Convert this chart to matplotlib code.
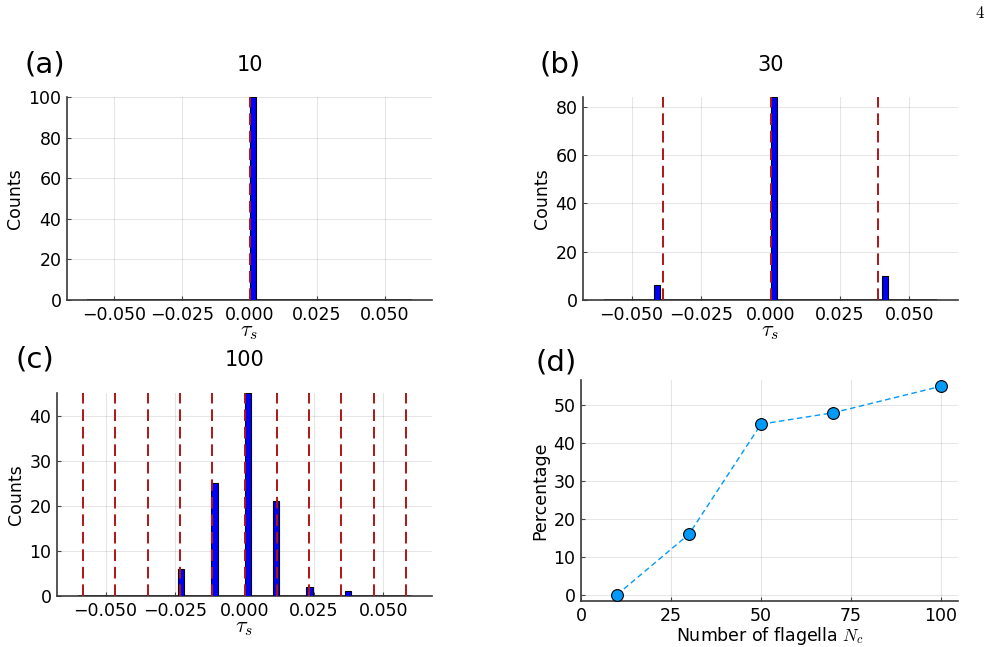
import numpy as np
import matplotlib
matplotlib.use("Agg")
import matplotlib.pyplot as plt
from matplotlib.ticker import FuncFormatter

plt.rcParams['font.family'] = ['DejaVu Sans']
plt.rcParams['mathtext.fontset'] = 'cm'

# histogram data (bar left edge, counts)
bar_width = 0.0023
tau_range = (-0.06, 0.06)

left_a = [0.0]
count_a = [100]
lines_a = [0.0]

left_b = [-0.0421, 0.0, 0.0400]
count_b = [6, 84, 10]
lines_b = [-0.0388, 0.0, 0.0388]

left_c = [-0.0240, -0.0119, 0.0, 0.0101, 0.0223, 0.0360]
count_c = [6, 25, 45, 21, 2, 1]
lines_c = [-0.0582, -0.0466, -0.0349, -0.0233, -0.0116, 0.0,
           0.0116, 0.0233, 0.0349, 0.0466, 0.0582]

# panel (d)
n_flagella = [10, 30, 50, 70, 100]
percentage = [0, 16, 45, 48, 55]

tau_ticks = [-0.05, -0.025, 0.0, 0.025, 0.05]

W, H = 997, 647
fig = plt.figure(figsize=(W / 100, H / 100), dpi=100)


def box(l, r, t, b):
    return [l / W, 1 - b / H, (r - l) / W, (b - t) / H]


def style(ax):
    for s in ['top', 'right']:
        ax.spines[s].set_visible(False)
    for s in ['left', 'bottom']:
        ax.spines[s].set_color('#3a3a3a')
        ax.spines[s].set_linewidth(1.2)
    ax.tick_params(direction='in', length=3, width=0.8, color='#444444',
                   labelsize=12.5, pad=4)
    ax.grid(True, color='black', alpha=0.1, lw=0.8)
    ax.set_axisbelow(True)


def hist_panel(pos, lefts, counts, lines, ymax, yticks, title, tag, tag_y):
    ax = fig.add_axes(box(*pos))
    style(ax)
    ax.hlines(0, tau_range[0], tau_range[1], color='black', lw=1.3, zorder=2)
    ax.bar(lefts, counts, width=bar_width, align='edge', color='#0000ff',
           edgecolor='black', lw=0.8, zorder=3)
    for x in lines:
        ax.axvline(x, color='#b01515', lw=1.4, dashes=(6, 3), zorder=4)
    ax.set_xlim(-0.0675, 0.0675)
    ax.set_ylim(0, ymax)
    ax.set_xticks(tau_ticks)
    ax.xaxis.set_major_formatter(FuncFormatter(lambda v, p: ('%.3f' % v).replace('-', '\u2212')))
    ax.set_yticks(yticks)
    ax.set_ylabel('Counts', fontsize=12.5, labelpad=3)
    ax.set_xlabel(r'$\tau_s$', fontsize=16, labelpad=-1)
    ax.text(0.5, tag_y, title, transform=ax.transAxes, fontsize=15,
            va='center', ha='center')
    ax.text(-0.06, tag_y, tag, transform=ax.transAxes, fontsize=21,
            va='center', ha='center')
    return ax


hist_panel((67, 432, 97, 300), left_a, count_a, lines_a, 100,
           [0, 20, 40, 60, 80, 100], '10', '(a)', 1.158)
hist_panel((583, 958, 97, 300), left_b, count_b, lines_b, 84,
           [0, 20, 40, 60, 80], '30', '(b)', 1.158)
hist_panel((57, 432, 393, 596), left_c, count_c, lines_c, 45,
           [0, 10, 20, 30, 40], '100', '(c)', 1.163)

# panel (d)
ax_d = fig.add_axes(box(581, 958, 380, 601))
style(ax_d)
ax_d.plot(n_flagella, percentage, color='#009afa', lw=1.0, dashes=(4, 2.5),
          marker='o', ms=8.5, mfc='#009afa', mec='black', mew=0.8, zorder=3)
ax_d.set_xlim(0, 104.7)
ax_d.set_ylim(-1.65, 56.65)
ax_d.set_xticks([0, 25, 50, 75, 100])
ax_d.set_yticks([0, 10, 20, 30, 40, 50])
ax_d.set_xlabel(r'Number of flagella $N_c$', fontsize=12.5, labelpad=0.5)
ax_d.set_ylabel('Percentage', fontsize=12.5, labelpad=3)
ax_d.text(-0.065, 1.077, '(d)', transform=ax_d.transAxes, fontsize=21,
          va='center', ha='center')

# page number
fig.text(980 / W, 1 - 13 / H, r'$4$', fontsize=12, ha='center', va='center')

fig.savefig('out.png', dpi=100)
